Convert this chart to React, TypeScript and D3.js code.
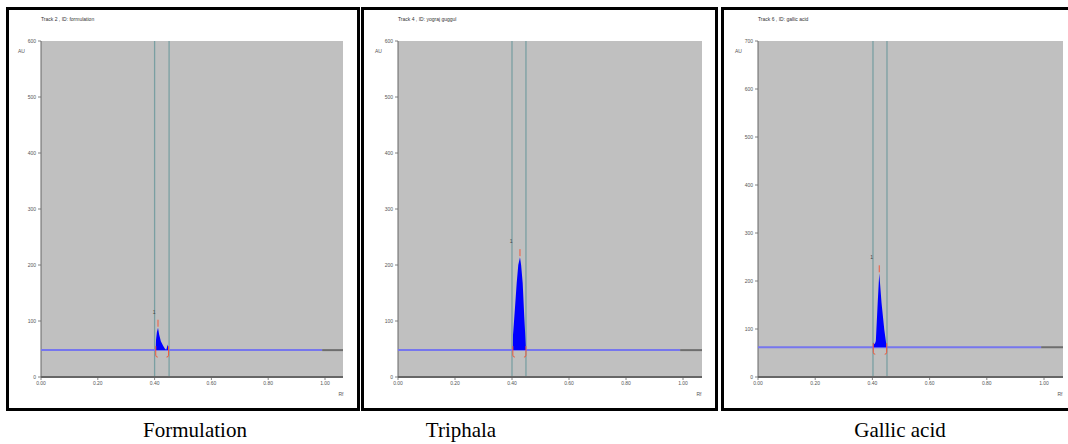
import React from 'react';
import * as d3 from 'd3';

// ---------- data ----------
const titles = ['Track 2 , ID: formulation', 'Track 4 , ID: yograj guggul', 'Track 6 , ID: gallic acid'];
const captions = ['Formulation', 'Triphala', 'Gallic acid'];
const yMaxValues = [600, 600, 700];
const yTicks600 = [0, 100, 200, 300, 400, 500, 600];
const yTicks700 = [0, 100, 200, 300, 400, 500, 600, 700];
const xTicks = [0, 0.2, 0.4, 0.6, 0.8, 1.0];
const baselineAU = [48, 48, 62];
const baselineEndRf = 0.99;
const integrationRf: [number, number][] = [
  [0.4, 0.451],
  [0.4, 0.449],
  [0.402, 0.451],
];
const peakLabels = ['1', '1', '1'];

const peakFormulation: [number, number][] = [
  [0.404, 48], [0.405, 66], [0.408, 80], [0.412, 88], [0.416, 76], [0.422, 64],
  [0.43, 56], [0.437, 50], [0.441, 48], [0.444, 54], [0.446, 58], [0.448, 52], [0.449, 48],
];
const peakTriphala: [number, number][] = [
  [0.403, 48], [0.4035, 75], [0.405, 85], [0.41, 120], [0.4165, 168], [0.422, 200],
  [0.428, 214], [0.432, 200], [0.4375, 168], [0.443, 108], [0.446, 80], [0.449, 48],
];
const peakGallic: [number, number][] = [
  [0.403, 62], [0.4035, 72], [0.408, 68], [0.412, 75], [0.4185, 154], [0.424, 216],
  [0.432, 154], [0.4417, 98], [0.45, 62],
];
const peaks = [peakFormulation, peakTriphala, peakGallic];

// ---------- layout ----------
const layout = [
  { frame: [6, 7, 354, 404], left: 41, one: 325, right: 343, caption: 195 },
  { frame: [361, 7, 357, 404], left: 398, one: 683, right: 702, caption: 461 },
  { frame: [721, 7, 360, 404], left: 758, one: 1044, right: 1063, caption: 900 },
];
const TOP = 41;
const BOTTOM = 377;

function Panel({ i }: { i: number }) {
  const L = layout[i];
  const x = d3.scaleLinear().domain([0, 1]).range([L.left, L.one]);
  const y = d3.scaleLinear().domain([0, yMaxValues[i]]).range([BOTTOM, TOP]);
  const yTicks = yMaxValues[i] === 700 ? yTicks700 : yTicks600;
  const base = baselineAU[i];
  const pk = peaks[i];
  const area = d3
    .area<[number, number]>()
    .x((d) => x(d[0]))
    .y0(y(base))
    .y1((d) => y(d[1]));
  const maxPt = pk.reduce((a, b) => (b[1] > a[1] ? b : a), pk[0]);
  const startRf = pk[0][0];
  const endRf = pk[pk.length - 1][0];
  const by = y(base);
  const fmt = d3.format('.2f');
  const [fx, fy, fw, fh] = L.frame;
  return (
    <g>
      <rect x={fx + 1.5} y={fy + 1.5} width={fw - 3} height={fh - 3} fill="#fff" stroke="#000" strokeWidth={3} />
      <text x={L.left} y={21} fontSize={5} fill="#333" fontFamily="Arial, Liberation Sans, sans-serif">
        {titles[i]}
      </text>
      <rect x={L.left} y={TOP} width={L.right - L.left} height={BOTTOM - TOP} fill="#c0c0c0" />
      {/* y axis */}
      <line x1={L.left} x2={L.left} y1={TOP} y2={BOTTOM} stroke="#666" strokeWidth={1} />
      {yTicks.map((t) => (
        <g key={t}>
          <line x1={L.left - 3} x2={L.left} y1={y(t)} y2={y(t)} stroke="#666" strokeWidth={0.8} />
          <text x={L.left - 5} y={y(t)} dy="0.35em" textAnchor="end" fontSize={5} fill="#555" fontFamily="Arial, Liberation Sans, sans-serif">
            {t}
          </text>
        </g>
      ))}
      <text x={L.left - 23} y={53} fontSize={5} fill="#555" fontFamily="Arial, Liberation Sans, sans-serif">AU</text>
      {/* vertical integration lines */}
      {integrationRf[i].map((r, k) => (
        <line key={k} x1={x(r)} x2={x(r)} y1={TOP} y2={BOTTOM} stroke="#7a9fa2" strokeWidth={1.3} />
      ))}
      {/* baseline */}
      <line x1={x(0)} x2={x(baselineEndRf)} y1={by} y2={by} stroke="#7676ee" strokeWidth={2} />
      <line x1={x(baselineEndRf)} x2={L.right} y1={by} y2={by} stroke="#6e6e6e" strokeWidth={2} />
      {/* peak */}
      <path d={area(pk) || ''} fill="#0000ff" />
      {/* red markers */}
      <line x1={x(maxPt[0])} x2={x(maxPt[0])} y1={y(maxPt[1]) - 8} y2={y(maxPt[1]) - 1} stroke="#f05a3c" strokeWidth={1} />
      <path
        d={`M${x(startRf)},${by - 4} L${x(startRf)},${by + 5} Q${x(startRf)},${by + 7} ${x(startRf) + 2},${by + 7}`}
        fill="none" stroke="#f05a3c" strokeWidth={1}
      />
      <path
        d={`M${x(endRf)},${by - 4} L${x(endRf)},${by + 5} Q${x(endRf)},${by + 7} ${x(endRf) - 2},${by + 7}`}
        fill="none" stroke="#f05a3c" strokeWidth={1}
      />
      <text x={x(startRf) - 3} y={y(maxPt[1]) - 14} fontSize={5} fill="#444" fontFamily="Arial, Liberation Sans, sans-serif">
        {peakLabels[i]}
      </text>
      {/* x axis */}
      <line x1={L.left} x2={L.right} y1={BOTTOM} y2={BOTTOM} stroke="#666" strokeWidth={2} />
      {xTicks.map((t) => (
        <g key={t}>
          <line x1={x(t)} x2={x(t)} y1={BOTTOM} y2={BOTTOM + 3} stroke="#666" strokeWidth={0.8} />
          <text x={x(t)} y={385} textAnchor="middle" fontSize={5} fill="#555" fontFamily="Arial, Liberation Sans, sans-serif">
            {fmt(t)}
          </text>
        </g>
      ))}
      <text x={L.one + 16} y={396} textAnchor="middle" fontSize={5} fill="#555" fontFamily="Arial, Liberation Sans, sans-serif">Rf</text>
      <text x={L.caption} y={437} textAnchor="middle" fontSize={21} fill="#000" fontFamily="Liberation Serif, Times New Roman, serif">
        {captions[i]}
      </text>
    </g>
  );
}

export default function App() {
  return (
    <svg
      width={1068}
      height={444}
      style={{ position: 'absolute', left: 0, top: 0, background: '#fff' }}
    >
      <rect x={0} y={0} width={1068} height={444} fill="#fff" />
      {[0, 1, 2].map((i) => (
        <Panel key={i} i={i} />
      ))}
    </svg>
  );
}
